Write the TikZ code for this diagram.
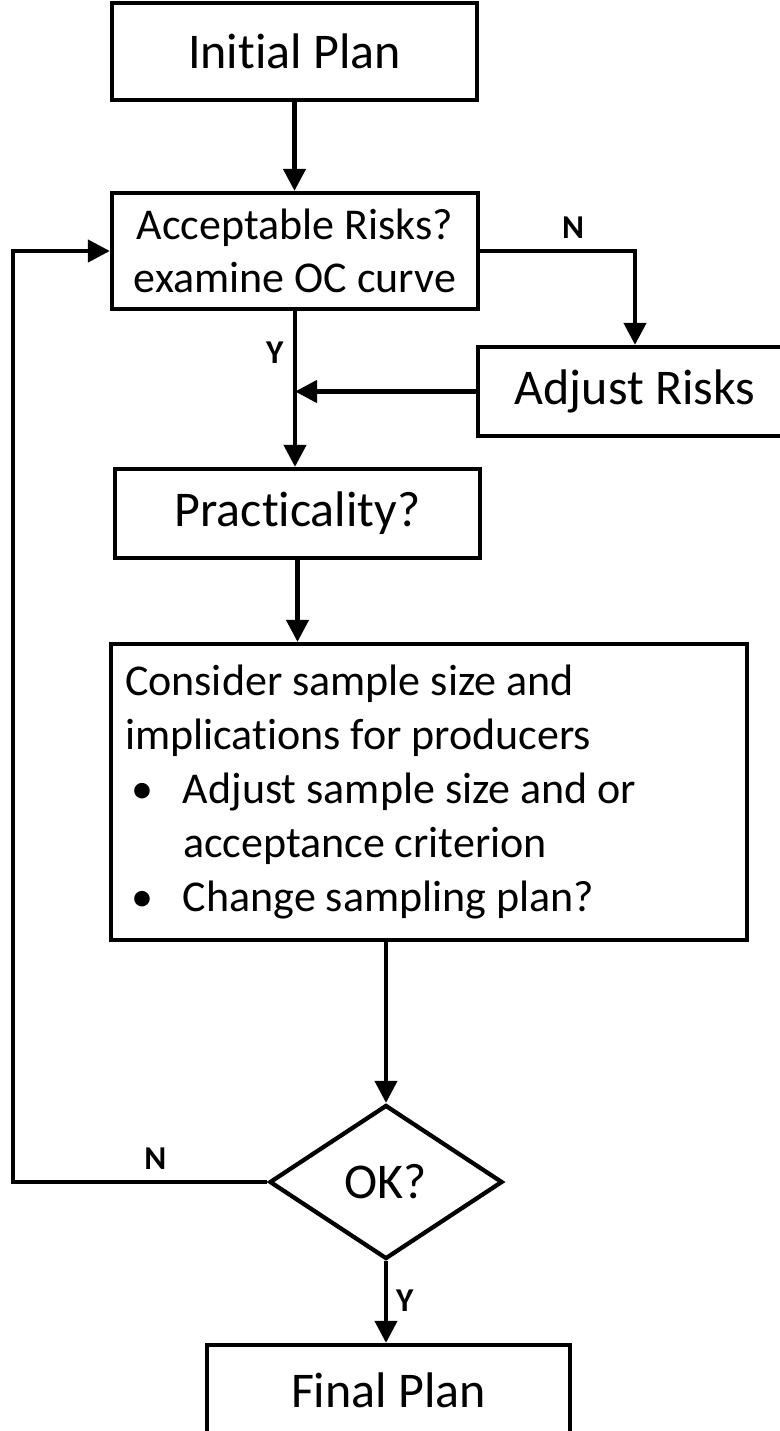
\documentclass[tikz,border=0pt]{standalone}
\usepackage{fontspec}
\setmainfont{Carlito}[Ligatures={NoCommon,NoContextual,NoRequired}]
\usetikzlibrary{arrows.meta, positioning, shapes.geometric}
\tikzset{
  >={Triangle[length=16.5pt, width=16.5pt]},
  every picture/.style={line join=miter},
  plan/.style={draw, line width=3.2pt, inner sep=0pt, align=center,
               font=\fontsize{37.5}{45}\selectfont},
  query/.style={plan, diamond},
  flow/.style={->, line width=3.2pt},
  yn/.style={font=\fontsize{25}{30}\selectfont\bfseries, inner sep=0pt},
}
\newcommand\planitem{\hspace*{5pt}\makebox[38.5pt][l]{\textbullet}}
\newcommand\planindent{\hspace*{43.5pt}}

\begin{document}
\begin{tikzpicture}[x=0.75pt, y=-0.75pt]
  \useasboundingbox (0,0) rectangle (779,1431);
  % main column
  \node[plan, minimum width=273.75pt, minimum height=72.75pt] (init) at (294.5,51.5) {Initial Plan};
  \node[plan, minimum width=274.5pt, minimum height=87pt,
        font=\fontsize{33}{40}\selectfont] (risk) at (295,251) {Acceptable Risks?\\examine OC curve};
  \node[plan, minimum width=235.5pt, minimum height=66.75pt] (adj) at (635,391.5) {Adjust Risks};
  \node[plan, minimum width=273.75pt, minimum height=66.75pt] (prac) at (297.5,513.5) {Practicality?};
  \node[plan, text width=456pt, inner xsep=10.5pt, minimum height=222pt, align=flush left,
        font=\fontsize{33}{40.5}\selectfont] (cons) at (429,792)
    {Consider sample size and\\implications for producers\\
     \planitem Adjust sample size and or\\\planindent acceptance criterion\\
     \planitem Change sampling plan?};
  \node[query, minimum width=174.75pt, minimum height=115.5pt] (ok) at (386,1182) {OK?};
  \node[plan, minimum width=272.25pt, minimum height=67.5pt] (final) at (388.5,1390) {Final Plan};
  \coordinate (lp) at (13,0);
  % connectors
  \draw[flow] (init.south) -- (init.south |- risk.north);
  \draw[flow] (risk.east) -| node[yn, pos=0.3, above=8pt] {N} (adj.north);
  \draw[flow] (risk.south) -- node[yn, pos=0.27, left=7pt] {Y} (risk.south |- prac.north);
  \draw[flow] (adj.west) -- (risk.south |- adj.west);
  \draw[flow] (prac.south) -- (prac.south |- cons.north);
  \draw[flow] (ok.north |- cons.south) -- (ok.north);
  \draw[flow] (ok.south) -- node[yn, pos=0.48, right=6pt] {Y} (ok.south |- final.north);
  \draw[flow] (ok.west) -- node[yn, pos=0.44, above=8pt] {N} (ok.west -| lp) |- (risk.west);
\end{tikzpicture}
\end{document}
